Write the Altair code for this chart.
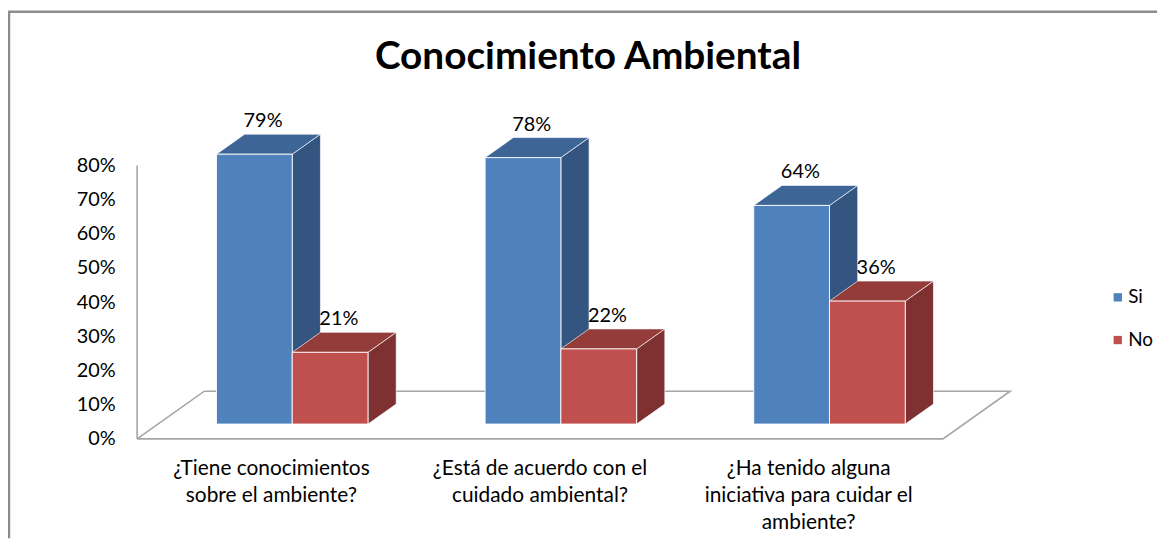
import altair as alt
import pandas as pd

# ---------------- data ----------------
questions = [
    "¿Tiene conocimientos\nsobre el ambiente?",
    "¿Está de acuerdo con el\ncuidado ambiental?",
    "¿Ha tenido alguna\niniciativa para cuidar el\nambiente?",
]
series = ["Si", "No"]
si_values = [79, 78, 64]
no_values = [21, 22, 36]
y_ticks = [0, 10, 20, 30, 40, 50, 60, 70, 80]
title_text = "Conocimiento Ambiental"

# ---------------- style ----------------
W, H = 1157, 530
PX_X = 270.5          # pixels per category
X0 = 130.0            # view px where x = 0
PX_Y = 3.44           # pixels per percent
Y0 = 430.0            # view px where y = 0
XMIN = -X0 / PX_X
XMAX = XMIN + W / PX_X
YMAX = Y0 / PX_Y
YMIN = YMAX - H / PX_Y
DX = 0.25             # floor depth (x units)
DY = 48 / PX_Y        # floor depth (y units)
D_FRONT, D_BACK, D_LABEL = 0.31, 0.73, 0.44
BAR_W = 0.282
FONT = "Lato"
front_colors = ["#4F81BD", "#C0504D"]
side_colors = ["#34557F", "#7E3130"]
top_colors = ["#3D6696", "#943C3A"]
GRAY = "#A6A6A6"

# ---------------- tables built from the data ----------------
values_by_series = [si_values, no_values]
bar_rows, face_rows = [], []
for i, q in enumerate(questions):
    for j, s in enumerate(series):
        v = values_by_series[j][i]
        xl = i + 0.5 - BAR_W + j * BAR_W
        xr = xl + BAR_W
        bid = f"{i}-{j}"
        bar_rows.append(dict(bar=bid, serie=s, valor=v, label=f"{v}%",
                             fx=xl + D_FRONT * DX, fx2=xr + D_FRONT * DX,
                             fy=D_FRONT * DY, fy2=v + D_FRONT * DY,
                             lx=(xl + xr) / 2 + D_LABEL * DX, ly=v + D_BACK * DY))
        for d in (D_FRONT, D_BACK):
            face_rows.append(dict(bar=bid, serie=s,
                                  sx=xr + d * DX, sy=d * DY, sy2=v + d * DY,
                                  ty=v + d * DY, tx=xl + d * DX, tx2=xr + d * DX))
bars = pd.DataFrame(bar_rows)
faces = pd.DataFrame(face_rows)

n = len(questions)
floor = pd.DataFrame({
    "k": [0, 1, 2, 3, 4],
    "x": [0, n, n + DX, DX, 0],
    "y": [0, 0, DY, DY, 0],
})
cats = pd.DataFrame({"pregunta": questions, "pos": [i + 0.5 for i in range(n)]})
axis_line = pd.DataFrame({"x": [0], "y": [y_ticks[0]], "y2": [y_ticks[-1]]})
one = pd.DataFrame({"t": [title_text]})

xs = alt.Scale(domain=[XMIN, XMAX], nice=False, zero=False)
ys = alt.Scale(domain=[YMIN, YMAX], nice=False, zero=False)

y_axis = alt.Axis(
    values=y_ticks, orient="left", offset=-X0, domain=False, ticks=False,
    grid=False, labelExpr="datum.value + '%'", labelFont=FONT,
    labelFontSize=20, labelColor="#000000", labelPadding=22, title=None)

# ---------------- layers ----------------
frame_top = alt.Chart(one).mark_rule(color="#8C8C8C", strokeWidth=2.5).encode(
    x=alt.value(0), x2=alt.value(W), y=alt.value(0))
frame_left = alt.Chart(one).mark_rule(color="#8C8C8C", strokeWidth=2.5).encode(
    x=alt.value(1), y=alt.value(0), y2=alt.value(H))

title = alt.Chart(one).mark_text(font=FONT, fontSize=39, fontWeight="bold",
                                 color="#000000", baseline="middle").encode(
    x=alt.value(584), y=alt.value(46), text="t:N")

axis_layer = alt.Chart(axis_line).mark_rule(color=GRAY, strokeWidth=1.6).encode(
    x=alt.X("x:Q", scale=xs, axis=None),
    y=alt.Y("y:Q", scale=ys, axis=y_axis),
    y2="y2:Q",
)

floor_layer = alt.Chart(floor).mark_line(color=GRAY, strokeWidth=1.6).encode(
    x=alt.X("x:Q", scale=xs, axis=None),
    y=alt.Y("y:Q", scale=ys, axis=y_axis),
    order="k:Q",
)

sides = alt.Chart(faces).mark_area(orient="vertical", stroke="white",
                                   strokeWidth=0.8, strokeOpacity=0.8).encode(
    x=alt.X("sx:Q", scale=xs, axis=None),
    y=alt.Y("sy:Q", scale=ys, stack=None, axis=y_axis),
    y2="sy2:Q",
    detail="bar:N",
    color=alt.Color("serie:N", scale=alt.Scale(domain=series, range=side_colors),
                    legend=None),
)

tops = alt.Chart(faces).mark_area(orient="horizontal", stroke="white",
                                  strokeWidth=0.8, strokeOpacity=0.8).encode(
    y=alt.Y("ty:Q", scale=ys, axis=y_axis),
    x=alt.X("tx:Q", scale=xs, stack=None, axis=None),
    x2="tx2:Q",
    detail="bar:N",
    color=alt.Color("serie:N", scale=alt.Scale(domain=series, range=top_colors),
                    legend=None),
)

fronts = alt.Chart(bars).mark_rect(stroke="white", strokeWidth=1,
                                   strokeOpacity=0.9).encode(
    x=alt.X("fx:Q", scale=xs, axis=None),
    x2="fx2:Q",
    y=alt.Y("fy:Q", scale=ys, axis=y_axis),
    y2="fy2:Q",
    color=alt.Color("serie:N", scale=alt.Scale(domain=series, range=front_colors),
                    legend=alt.Legend(title=None, orient="none", legendX=1108,
                                      legendY=278, symbolType="square",
                                      symbolSize=70, symbolStrokeWidth=0,
                                      labelFont=FONT, labelFontSize=19,
                                      labelColor="#000000", rowPadding=23,
                                      labelOffset=1)),
)

value_labels = alt.Chart(bars).mark_text(font=FONT, fontSize=20, dy=-13,
                                         baseline="middle", color="#000000").encode(
    x=alt.X("lx:Q", scale=xs, axis=None),
    y=alt.Y("ly:Q", scale=ys, axis=y_axis),
    text="label:N",
)

cat_labels = alt.Chart(cats).mark_text(font=FONT, fontSize=21, lineBreak="\n",
                                       lineHeight=27.5, baseline="top",
                                       align="center", color="#000000").encode(
    x=alt.X("pos:Q", scale=xs, axis=None),
    y=alt.value(449),
    text="pregunta:N",
)

chart = alt.layer(
    axis_layer, frame_top, frame_left, title, floor_layer, sides, tops, fronts,
    value_labels, cat_labels,
).resolve_scale(color="independent").properties(
    width=W, height=H,
    autosize=alt.AutoSizeParams(type="none"),
    padding={"left": 0, "top": 2, "right": 0, "bottom": 0},
    background="white",
).configure_view(stroke=None)

chart.save("out.html", embed_options={"renderer": "svg", "actions": False})
